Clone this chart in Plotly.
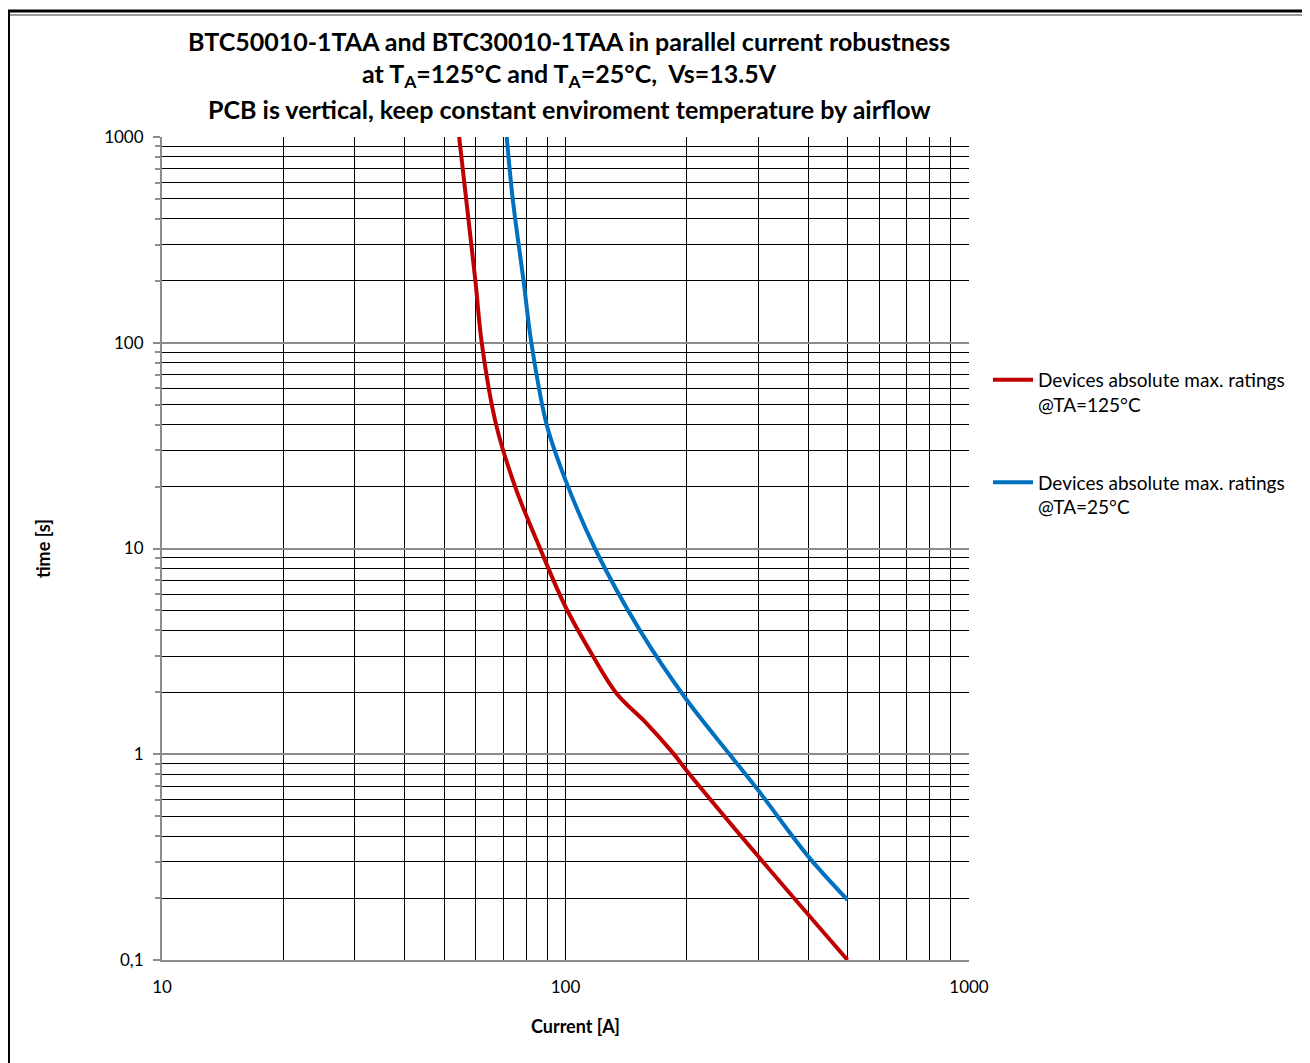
import plotly.graph_objects as go

# ---- data ----
red_current = [54.5, 59.8, 62.0, 67.3, 75, 86.5, 100, 117.2, 134, 159, 185, 200, 300, 500]
red_time = [1000, 200, 100, 40, 20, 10, 5.21, 2.98, 1.97, 1.41, 1.01, 0.83, 0.32, 0.1]

blue_current = [71.5, 74.0, 78.7, 82.3, 89.8, 100, 118.3, 152.9, 200, 255, 300, 400, 500]
blue_time = [1000, 500, 200, 100, 40, 21.5, 10, 4.0, 1.83, 1.0, 0.67, 0.318, 0.196]

red_name = "Devices absolute max. ratings<br>@TA=125°C"
blue_name = "Devices absolute max. ratings<br>@TA=25°C"

x_major = [10, 100, 1000]
x_major_text = ["10", "100", "1000"]
x_minor = [20, 30, 40, 50, 60, 70, 80, 90, 200, 300, 400, 500, 600, 700, 800, 900]
y_major = [0.1, 1, 10, 100, 1000]
y_major_text = ["0,1", "1", "10", "100", "1000"]
y_minor = [m * d for d in (0.1, 1, 10, 100) for m in range(2, 10)]

title_lines = [
    "BTC50010-1TAA and BTC30010-1TAA in parallel current robustness",
    "at T<sub>A</sub>=125°C and T<sub>A</sub>=25°C,  Vs=13.5V",
    "PCB is vertical, keep constant enviroment temperature by airflow",
]

FONT = "Lato"
OFF = 8  # page body margin
W, H = 1310 - OFF, 1063 - OFF
L, T = 162 - OFF, 137 - OFF
R, B = W - (969 - OFF), H - (960 - OFF)
PW, PH = W - L - R, H - T - B


def px(xp):
    # xp: screenshot pixel
    return (xp - OFF - L) / PW


def py(yp):
    return (H - B - (yp - OFF)) / PH


fig = go.Figure()
fig.add_trace(go.Scatter(x=red_current, y=red_time, mode="lines", name=red_name,
                         line=dict(color="#C00000", width=4, shape="spline", smoothing=1.0),
                         legendgroup="a"))
fig.add_trace(go.Scatter(x=blue_current, y=blue_time, mode="lines", name=blue_name,
                         line=dict(color="#0070C0", width=4, shape="spline", smoothing=1.0),
                         legendgroup="b"))

annotations = []
for txt, yc in zip(title_lines, [41, 75, 109]):
    annotations.append(dict(text="<b>" + txt + "</b>", x=px(569), y=py(yc), xref="paper", yref="paper",
                            showarrow=False, xanchor="center", yanchor="middle",
                            font=dict(family=FONT, size=25, color="black")))
annotations.append(dict(text="<b>Current [A]</b>", x=px(575), y=py(1026), xref="paper", yref="paper",
                        showarrow=False, xanchor="center", yanchor="middle",
                        font=dict(family=FONT, size=18, color="black")))
annotations.append(dict(text="<b>time [s]</b>", x=px(43), y=py(549), xref="paper", yref="paper",
                        showarrow=False, xanchor="center", yanchor="middle", textangle=-90,
                        font=dict(family=FONT, size=18, color="black")))

shapes = [
    dict(type="line", xref="paper", yref="paper", x0=px(OFF), x1=px(1310), y0=py(11), y1=py(11),
         line=dict(color="black", width=3)),
    dict(type="line", xref="paper", yref="paper", x0=px(OFF), x1=px(1310), y0=py(15), y1=py(15),
         line=dict(color="#9a9a9a", width=2)),
    dict(type="line", xref="paper", yref="paper", x0=px(OFF + 1), x1=px(OFF + 1), y0=py(10), y1=py(1063),
         line=dict(color="black", width=2)),
]

fig.update_layout(
    width=W, height=H,
    margin=dict(l=L, r=R, t=T, b=B, pad=0),
    paper_bgcolor="white", plot_bgcolor="white",
    font=dict(family=FONT, size=17, color="black"),
    showlegend=True,
    legend=dict(x=px(988), y=py(361), xanchor="left", yanchor="top",
                font=dict(family=FONT, size=19, color="black"),
                tracegroupgap=50, valign="top", itemwidth=40, bgcolor="rgba(0,0,0,0)"),
    annotations=annotations,
    shapes=shapes,
)

fig.update_xaxes(type="log", range=[1, 3], tickvals=x_major, ticktext=x_major_text,
                 showgrid=True, gridcolor="black", gridwidth=1.2,
                 showline=True, linecolor="#8c8c8c", linewidth=2,
                 ticks="", ticklabelstandoff=11, zeroline=False,
                 minor=dict(tickvals=x_minor, showgrid=True, gridcolor="black", gridwidth=1.2, ticks=""),
                 tickfont=dict(family=FONT, size=17, color="black"))
fig.update_yaxes(type="log", range=[-1, 3], tickvals=y_major, ticktext=y_major_text,
                 showgrid=True, gridcolor="#8c8c8c", gridwidth=2,
                 showline=True, linecolor="#8c8c8c", linewidth=2,
                 ticks="outside", ticklen=7, tickcolor="#8c8c8c", tickwidth=2,
                 ticklabelstandoff=6, zeroline=False,
                 minor=dict(tickvals=y_minor, showgrid=True, gridcolor="black", gridwidth=1.2,
                            ticks="outside", ticklen=5, tickcolor="#8c8c8c", tickwidth=2),
                 tickfont=dict(family=FONT, size=17, color="black"))

fig.write_html("out.html")
